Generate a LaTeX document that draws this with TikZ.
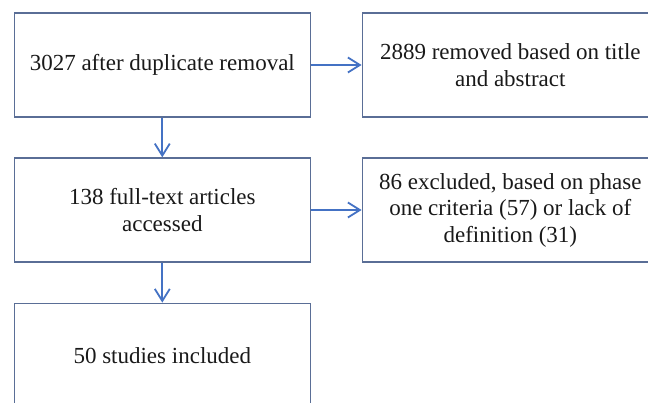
\documentclass[tikz,border=0pt]{standalone}
\usepackage{fontspec}
\setmainfont{Liberation Serif}
\usetikzlibrary{arrows.meta}
\definecolor{boxline}{HTML}{5A6E96}
\definecolor{arrowblue}{HTML}{4472C4}
\begin{document}
\begin{tikzpicture}[x=1pt,y=-1pt,
  flowbox/.style={draw=boxline, line width=1.4pt, minimum width=296pt, minimum height=104pt,
    align=center, font=\rmfamily\fontsize{23}{26.5}\selectfont, text=black!90, inner sep=0pt, anchor=center},
  flowarrow/.style={draw=arrowblue, line width=1.8pt, -{Straight Barb[length=12pt,width=15pt,line width=1.8pt]}}]
\useasboundingbox (0,0) rectangle (648,403);
\begin{scope}
\clip (0,0) rectangle (648,403);
\node[flowbox] (a) at (162.3,65) {3027 after duplicate removal};
\node[flowbox] (b) at (510.3,65) {2889 removed based on title\\and abstract};
\node[flowbox] (c) at (162.3,210) {138 full-text articles\\accessed};
\node[flowbox] (d) at (510.3,210) {86 excluded, based on phase\\one criteria (57) or lack of\\definition (31)};
\node[flowbox] (e) at (162.3,355.3) {50 studies included};
\end{scope}
\draw[flowarrow] (a) -- (b);
\draw[flowarrow] (a) -- (c);
\draw[flowarrow] (c) -- (d);
\draw[flowarrow] (c) -- (e);
\end{tikzpicture}
\end{document}
